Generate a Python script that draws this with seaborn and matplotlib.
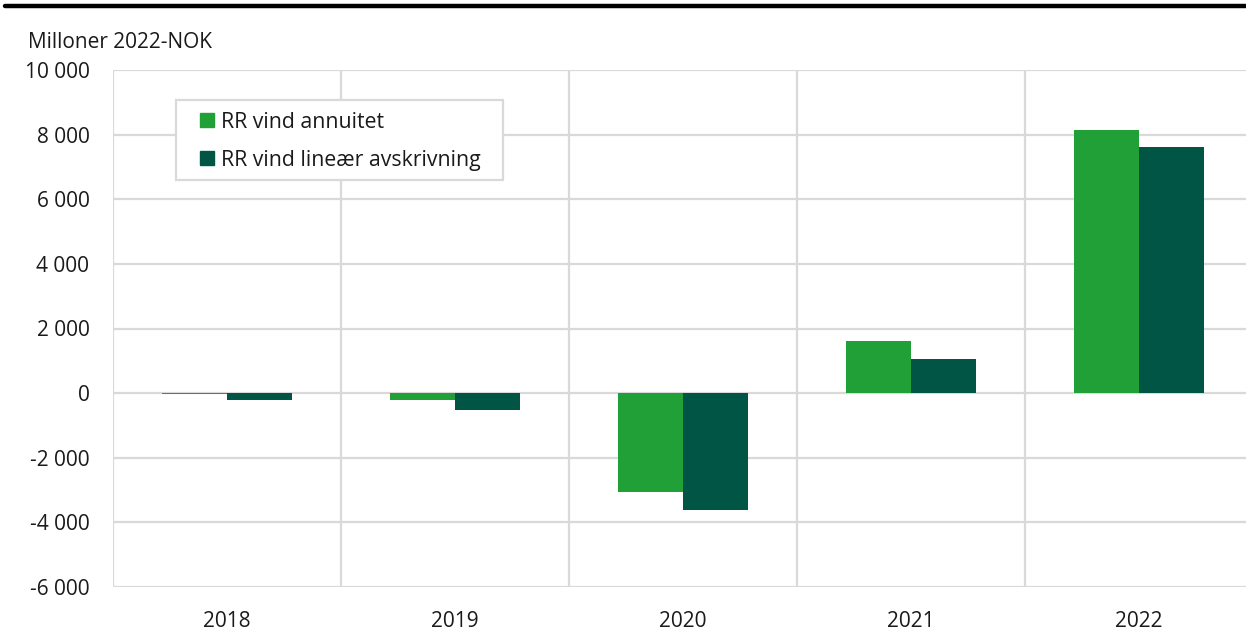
import pandas as pd
import matplotlib
matplotlib.use('Agg')
import matplotlib.pyplot as plt
import seaborn as sns
from matplotlib.ticker import FuncFormatter, FixedLocator
from matplotlib.lines import Line2D
from matplotlib.patches import Rectangle

# Data (millioner 2022-NOK)
years = ['2018', '2019', '2020', '2021', '2022']
annuitet = [-30, -200, -3065, 1610, 8150]
lineaer = [-215, -525, -3620, 1050, 7605]
series_names = ['RR vind annuitet', 'RR vind lineær avskrivning']
colors = ['#21a038', '#005544']

df = pd.DataFrame({
    'year': years * 2,
    'value': annuitet + lineaer,
    'series': [series_names[0]] * len(years) + [series_names[1]] * len(years),
})

sns.set_style('white')
plt.rcParams['font.family'] = ['Open Sans', 'DejaVu Sans']

fs = 15
txt_col = '#1a1a1a'
grid_col = '#d9d9d9'

fig = plt.figure(figsize=(12.46, 6.37), dpi=100)
ax = fig.add_axes([113 / 1246, 1 - 587 / 637, 1140 / 1246, 517 / 637])

sns.barplot(data=df, x='year', y='value', hue='series', palette=colors,
            width=0.57, saturation=1, linewidth=0, ax=ax, legend=False)

# Grid
ax.set_ylim(-6000, 10000)
ax.set_xlim(-0.5, 4.5)
ax.set_yticks(range(-6000, 10001, 2000))
ax.xaxis.set_minor_locator(FixedLocator([i - 0.5 for i in range(6)]))
ax.grid(axis='y', which='major', color=grid_col, linewidth=1.6)
ax.grid(axis='x', which='minor', color=grid_col, linewidth=1.6)
ax.grid(axis='x', which='major', visible=False)
ax.set_axisbelow(True)
for s in ax.spines.values():
    s.set_visible(False)

ax.yaxis.set_major_formatter(FuncFormatter(lambda v, p: f'{int(v):,}'.replace(',', ' ')))
ax.tick_params(axis='both', which='both', length=0, labelsize=fs, colors=txt_col)
ax.tick_params(axis='y', pad=17)
ax.tick_params(axis='x', pad=17)
ax.set_xlabel('')
ax.set_ylabel('')

# Legend (frame drawn separately to get wide side padding)
ax.add_patch(Rectangle((0.0553, 0.787), 0.2868, 0.155, transform=ax.transAxes,
                       facecolor='white', edgecolor=grid_col, linewidth=1.6, zorder=4))
handles = [Line2D([], [], marker='s', linestyle='', markersize=10, color=c) for c in colors]
leg = ax.legend(handles, series_names, loc='upper left', bbox_to_anchor=(0.0772, 0.919),
                fontsize=15.3, frameon=False, handlelength=0.6, handletextpad=0.35,
                labelspacing=0.8, borderpad=0, borderaxespad=0)
leg.set_zorder(5)
for t in leg.get_texts():
    t.set_color(txt_col)

# Unit label and top rule
fig.text(28 / 1246, 1 - 42 / 637, 'Milloner 2022-NOK', fontsize=fs, va='center', ha='left',
         color=txt_col)
fig.add_artist(Line2D([5 / 1246, 1], [1 - 6 / 637, 1 - 6 / 637], color='black', linewidth=3.2))

fig.savefig('out.png', dpi=100)
